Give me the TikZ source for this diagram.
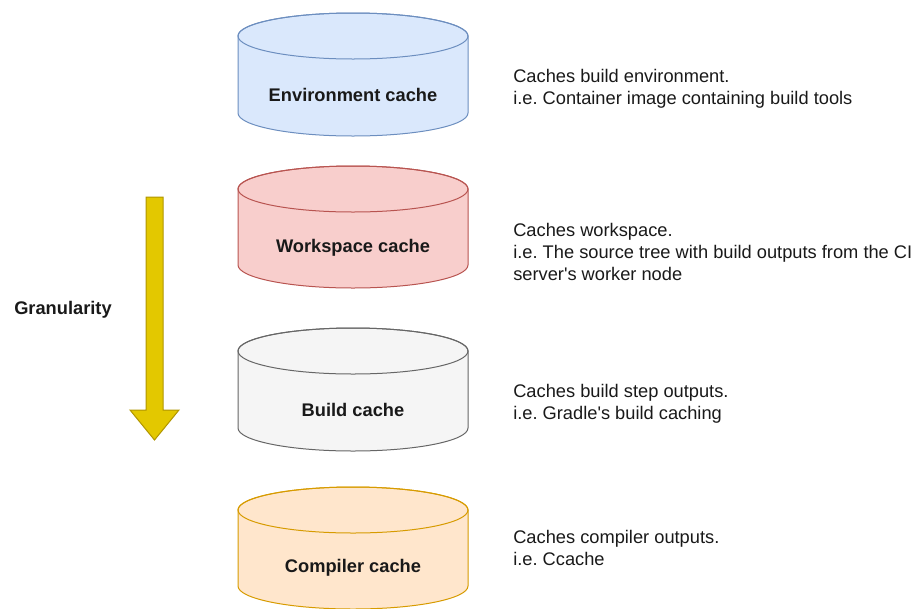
\documentclass[tikz,border=0pt]{standalone}
\usepackage{fontspec}
\setmainfont{Liberation Sans}
\frenchspacing
\begin{document}
\begin{tikzpicture}[x=0.75pt,y=-0.75pt,
  lbl/.style={font=\fontsize{13.7pt}{16.5pt}\selectfont\bfseries, text=black!90, inner sep=0pt},
  desc/.style={font=\fontsize{13.7pt}{16.5pt}\selectfont, text=black!90, align=left, anchor=west, inner sep=0pt},
  cylline/.style={line width=0.75pt}]
\definecolor{envf}{HTML}{DAE8FC}\definecolor{envd}{HTML}{6C8EBF}
\definecolor{wsf}{HTML}{F8CECC}\definecolor{wsd}{HTML}{B85450}
\definecolor{bf}{HTML}{F5F5F5}\definecolor{bd}{HTML}{666666}
\definecolor{cf}{HTML}{FFE6CC}\definecolor{cd}{HTML}{D79B00}
\definecolor{arf}{HTML}{E3C800}\definecolor{ard}{HTML}{B09500}
\useasboundingbox (0,0) rectangle (920,608);
\newcommand\mycyl[4]{%
  \path[cylline,fill=#3,draw=#4] (238,#1) -- (238,#2)
    arc[start angle=180,end angle=360,x radius=86.25pt,y radius=17.25pt]
    -- (468,#1)
    arc[start angle=0,end angle=180,x radius=86.25pt,y radius=17.25pt] -- cycle;
  \draw[cylline,draw=#4] (353,#1) ellipse [x radius=86.25pt,y radius=17.25pt];
}
\mycyl{36}{113}{envf}{envd}
\mycyl{189}{265}{wsf}{wsd}
\mycyl{351}{428}{bf}{bd}
\mycyl{510}{586}{cf}{cd}
\node[lbl] (env) at (353,95) {Environment cache};
\node[lbl] (ws) at (353,248) {Workspace cache};
\node[lbl] (bc) at (353,410) {Build cache};
\node[lbl] (cc) at (353,568) {Compiler cache};
\node[desc] (envd) at (513,88.5) {Caches build environment.\\i.e. Container image containing build tools};
\node[desc] (wsd) at (513,251.5) {Caches workspace.\\i.e. The source tree with build outputs from the CI\\server\textquotesingle s worker node};
\node[desc] (bcd) at (513,403.5) {Caches build step outputs.\\i.e. Gradle\textquotesingle s build caching};
\node[desc] (ccd) at (513,547.5) {Caches compiler outputs.\\i.e. Ccache};
\path[fill=arf,draw=ard,line width=0.75pt] (146,197) -- (163,197) -- (163,410) -- (179,410) -- (154.5,440) -- (130,410) -- (146,410) -- cycle;
\node[lbl,anchor=west] (gran) at (14,310) {Granularity};
\end{tikzpicture}
\end{document}
